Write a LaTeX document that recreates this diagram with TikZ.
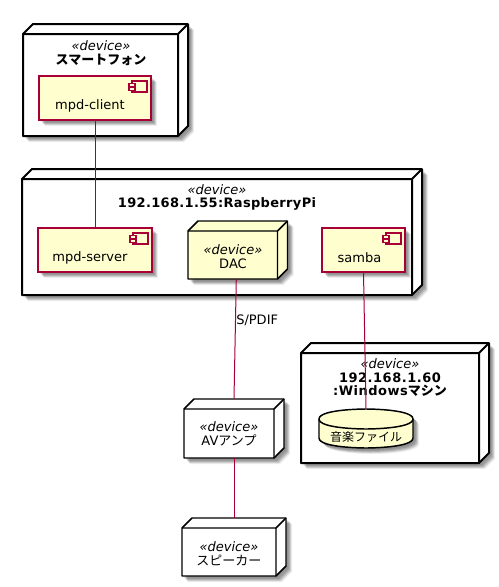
\documentclass[tikz,border=0pt]{standalone}
\usepackage{fontspec}
\setmainfont{DejaVu Sans}
\newfontfamily\cjk{Noto Sans CJK JP}
\usetikzlibrary{fit}
\definecolor{umlred}{HTML}{A80036}
\definecolor{umlfill}{HTML}{FEFECE}
\tikzset{
  px/.style={x=0.75pt,y=-0.75pt},
  frame/.style={inner sep=0pt,fit={#1}},
  heavy/.style={draw=black,line width=1.5pt,line join=round},
  medium/.style={draw=black,line width=1.1pt,line join=round},
  redline/.style={draw=umlred,line width=1.05pt,line join=miter},
  conn/.style={draw=umlred,line width=0.75pt},
  txt/.style={inner sep=0pt,align=center,font=\fontsize{9.75}{10.1}\selectfont},
}
\newcommand{\softshadow}[1]{%
  \foreach \o/\a in {2/.07,3/.12,4/.14,5/.12,6/.07}{
    \fill[black,opacity=\a,shift={(\o*0.75pt,-\o*0.75pt)}] #1;
  }}
% name, x1,y1,x2,y2 of front face, depth, face fill, line style
\newcommand{\devbox}[8]{%
  \softshadow{(#2,#3) -- (#2+#6,#3-#6) -- (#4+#6,#3-#6) -- (#4+#6,#5-#6) -- (#4,#5) -- (#2,#5) -- cycle}
  \path[#8,fill=#7] (#2,#3) -- (#2+#6,#3-#6) -- (#4+#6,#3-#6) -- (#4+#6,#5-#6) -- (#4,#5) -- (#2,#5) -- cycle;
  \path[#8] (#2,#3) -- (#4,#3) -- (#4,#5) (#4,#3) -- (#4+#6,#3-#6);
  \node[frame={(#2,#3-#6)(#4+#6,#5)}] (#1) {};
}
% name, x1,y1,x2,y2
\newcommand{\compbox}[5]{%
  \softshadow{(#2,#3) rectangle (#4,#5)}
  \path[redline,fill=umlfill] (#2,#3) rectangle (#4,#5);
  \path[redline,fill=umlfill] (#4-19,#3+5) rectangle (#4-4,#3+16);
  \path[redline,fill=umlfill] (#4-22,#3+7.5) rectangle (#4-16,#3+10.5);
  \path[redline,fill=umlfill] (#4-22,#3+11.5) rectangle (#4-16,#3+14.5);
  \node[frame={(#2,#3)(#4,#5)}] (#1) {};
}
\begin{document}
\begin{tikzpicture}[px]
\useasboundingbox (0,0) rectangle (499,587);
\devbox{phone}{23}{34}{178}{136}{10}{white}{heavy}
\devbox{pi}{22}{179}{412}{295}{10}{white}{heavy}
\devbox{win}{301}{353}{479}{463}{10}{white}{heavy}
\compbox{client}{39}{76}{151}{120}
\compbox{server}{38}{228}{152}{272}
\compbox{samba}{322}{228}{405}{272}
\devbox{dac}{188}{231}{277.5}{279}{10}{umlfill}{medium}
\devbox{av}{184}{409}{274}{458}{10}{white}{medium}
\devbox{spk}{182}{528}{276}{576}{10}{white}{medium}
% database
\softshadow{(319,419) .. controls (319,409) and (366,409) .. (366,409) .. controls (366,409) and (413,409) .. (413,419) -- (413,438) .. controls (413,448) and (366,448) .. (366,448) .. controls (366,448) and (319,448) .. (319,438) -- cycle}
\path[medium,fill=umlfill] (319,419) .. controls (319,409) and (366,409) .. (366,409) .. controls (366,409) and (413,409) .. (413,419) -- (413,438) .. controls (413,448) and (366,448) .. (366,448) .. controls (366,448) and (319,448) .. (319,438) -- cycle;
\path[medium] (319,419) .. controls (319,429) and (366,429) .. (366,429) .. controls (366,429) and (413,429) .. (413,419);
\node[frame={(319,409)(413,448)}] (db) {};
% labels
\node[txt] (tphone) at (101,53) {{\itshape «device»}\\\bfseries\cjk スマートフォン};
\node[txt] (tclient) at (90,105.7) {mpd-client};
\node[txt] (tpi) at (217,197.7) {{\itshape «device»}\\\bfseries\addfontfeatures{LetterSpace=2.5}192.168.1.55:RaspberryPi};
\node[txt] (tserver) at (90,257.7) {mpd-server};
\node[txt] (tdac) at (233,256.7) {{\itshape «device»}\\DAC};
\node[txt] (tsamba) at (359.5,257.7) {samba};
\node[txt,anchor=west] (tspdif) at (236,320.7) {S/PDIF};
\node[txt] (twin) at (390,377.7) {{\itshape «device»}\\\bfseries\addfontfeatures{LetterSpace=4}192.168.1.60\\\bfseries\addfontfeatures{LetterSpace=4}:Windows{\cjk マシン}};
\node[txt,font=\fontsize{9}{10.1}\selectfont] (tdb) at (366,436.5) {\cjk 音楽ファイル};
\node[txt] (tav) at (229,434) {{\itshape «device»}\\AV{\cjk アンプ}};
\node[txt] (tspk) at (229,553.7) {{\itshape «device»}\\\cjk スピーカー};
% connectors
\draw[conn] (client.south) -- (server.north);
\draw[conn] ([xshift=-1.1pt]dac.south) -- (av.north);
\draw[conn] (av.south) -- (spk.north);
\draw[conn] (samba.south) -- (db.north);
\end{tikzpicture}
\end{document}
